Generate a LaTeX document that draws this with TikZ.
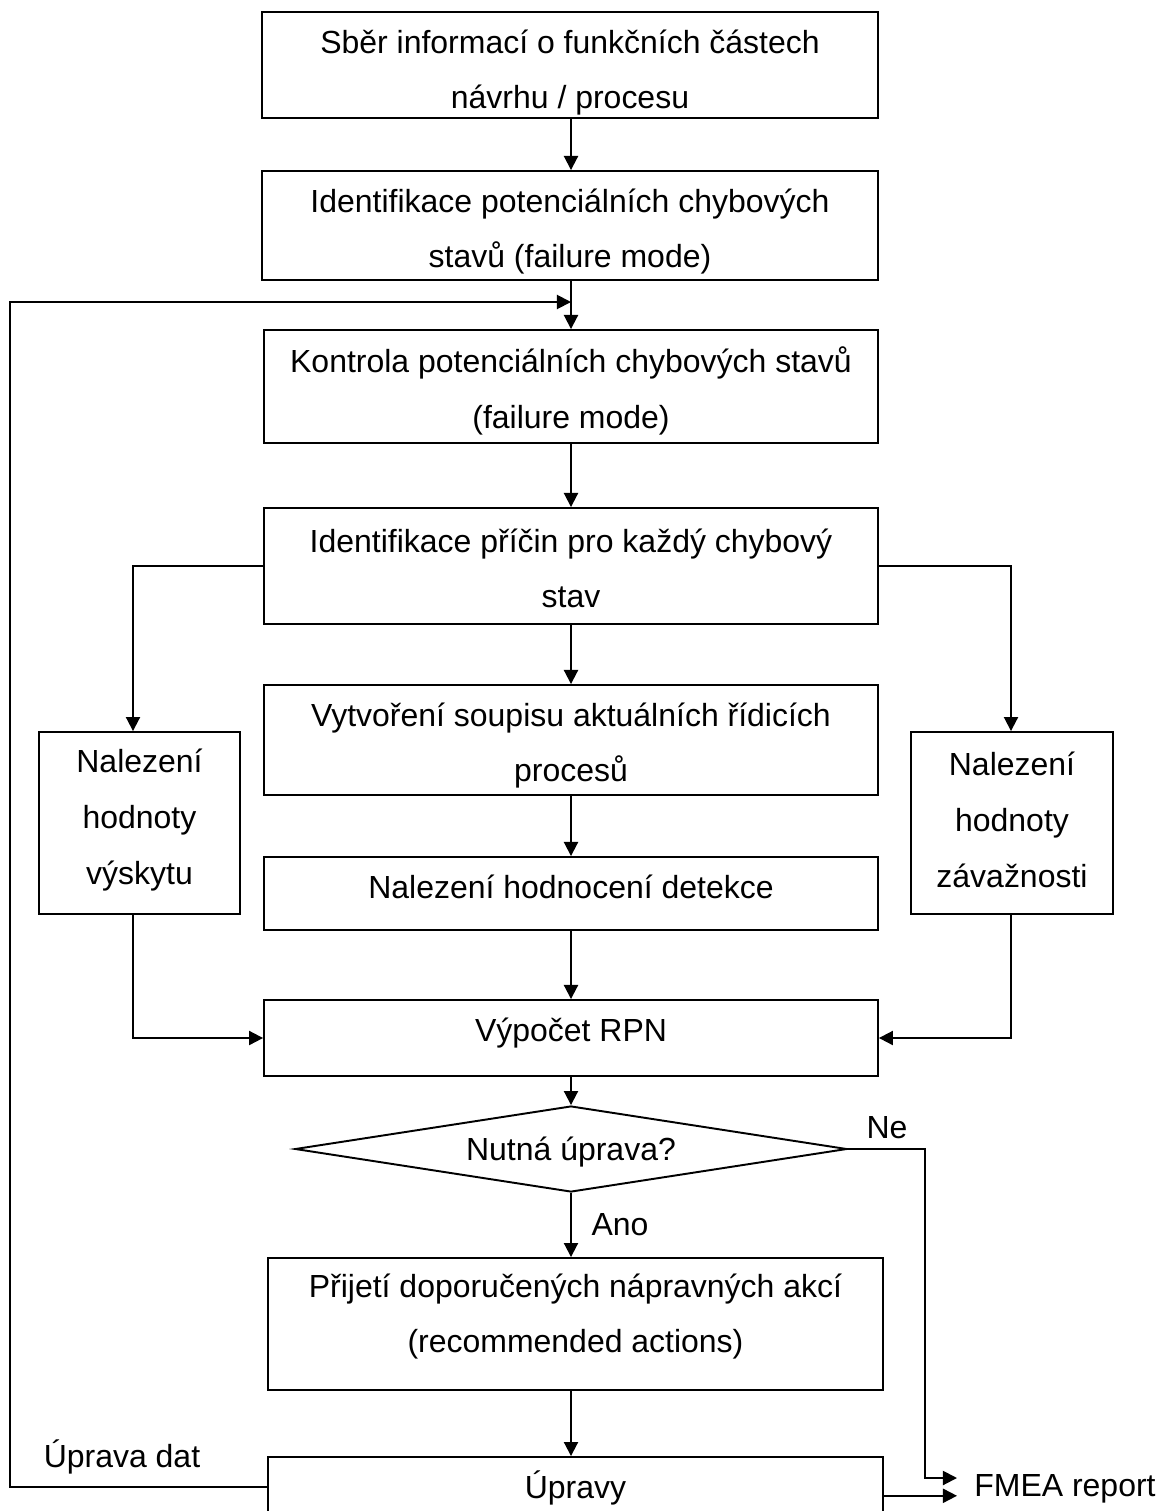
\documentclass[tikz,border=0pt]{standalone}
\usepackage{fontspec}
\setmainfont{Liberation Sans}
\usetikzlibrary{arrows.meta,shapes.geometric,calc}
\begin{document}
\begin{tikzpicture}[x=0.02cm,y=-0.02cm,
  every node/.style={font=\fontsize{18.2}{31.7}\selectfont},
  box/.style={draw,line width=1.1pt,inner sep=0pt},
  txt/.style={align=center,inner sep=0pt},
  arr/.style={line width=1.1pt,-{Triangle[length=8pt,width=8pt]}}]
\useasboundingbox (0,0) rectangle (1158,1511);
\clip (0,0) rectangle (1158,1511);
\coordinate (mx) at (571,0);
\coordinate (lx) at (133,0);
\coordinate (rx) at (1011,0);
% boxes
\node[box,minimum width=12.32cm,minimum height=2.12cm] (b1) at (570,65) {};
\node[box,minimum width=12.32cm,minimum height=2.18cm] (b2) at (570,225.5) {};
\node[box,minimum width=12.28cm,minimum height=2.26cm] (b3) at (571,386.5) {};
\node[box,minimum width=12.28cm,minimum height=2.32cm] (b4) at (571,566) {};
\node[box,minimum width=12.28cm,minimum height=2.2cm] (b5) at (571,740) {};
\node[box,minimum width=12.28cm,minimum height=1.46cm] (b6) at (571,893.5) {};
\node[box,minimum width=4.02cm,minimum height=3.64cm] (b7) at (139.5,823) {};
\node[box,minimum width=4.04cm,minimum height=3.64cm] (b8) at (1012,823) {};
\node[box,minimum width=12.28cm,minimum height=1.52cm] (b9) at (571,1038) {};
\node[draw,line width=1.1pt,diamond,aspect=6.5,inner sep=0pt,minimum width=11.04cm,minimum height=1.72cm] (dia) at (571,1149) {};
\node[box,minimum width=12.3cm,minimum height=2.64cm] (b11) at (575.5,1324) {};
\node[box,minimum width=12.3cm,minimum height=1.2cm] (b12) at (575.5,1487) {};
% texts (top aligned in their boxes)
\node[txt] (t1) at (570,72.5) {Sběr informací o funkčních částech\\návrhu / procesu};
\node[txt] (t2) at (570,231.5) {Identifikace potenciálních chybových\\stavů (failure mode)};
\node[txt] (t3) at (571,391) {Kontrola potenciálních chybových stavů\\(failure mode)};
\node[txt] (t4) at (571,568.5) {Identifikace příčin pro každý chybový\\stav};
\node[txt] (t5) at (571,745.5) {Vytvoření soupisu aktuálních řídicích\\procesů};
\node[txt] (t6) at (571,887) {Nalezení hodnocení detekce};
\node[txt] (t7) at (139.5,820) {Nalezení\\hodnoty\\výskytu};
\node[txt] (t8) at (1012,820) {Nalezení\\hodnoty\\závažnosti};
\node[txt] (t9) at (571,1033) {Výpočet RPN};
\node[txt] (tdia) at (571,1152) {Nutná úprava?};
\node[txt] (t11) at (575.5,1316.5) {Přijetí doporučených nápravných akcí\\(recommended actions)};
\node[txt] (t12) at (575.5,1488) {Úpravy};
% free labels
\node (ne) at (887,1128) {Ne};
\node (ano) at (620,1225) {Ano};
\node (ud) at (122,1457) {Úprava dat};
\node[anchor=west,inner sep=0pt] (fm) at (974,1489) {FMEA report};
% connectors
\coordinate (fb) at (10,302);
\coordinate (fm1) at (957,1478);
\coordinate (ner) at (925,1149);
\coordinate (up) at ([yshift=-5pt]b12.east);
\draw[arr] (b1.south -| mx) -- (b2.north -| mx);
\draw[arr] (b2.south -| mx) -- (b3.north -| mx);
\draw[arr] (b12.west) -| (fb) -- (fb -| mx);
\draw[arr] (b3.south -| mx) -- (b4.north -| mx);
\draw[arr] (b4.south -| mx) -- (b5.north -| mx);
\draw[arr] (b5.south -| mx) -- (b6.north -| mx);
\draw[arr] (b6.south -| mx) -- (b9.north -| mx);
\draw[arr] (b9.south -| mx) -- (dia.north);
\draw[arr] (dia.south) -- (b11.north -| dia.south);
\draw[arr] (b11.south -| mx) -- (b12.north -| mx);
\draw[arr] (b4.west) -| (b7.north -| lx);
\draw[arr] (b4.east) -| (b8.north -| rx);
\draw[arr] (b7.south -| lx) |- (b9.west);
\draw[arr] (b8.south -| rx) |- (b9.east);
\draw[arr] (dia.east) -- (ner) |- (fm1);
\draw[arr] (up) -- (up -| fm1);
\end{tikzpicture}
\end{document}
